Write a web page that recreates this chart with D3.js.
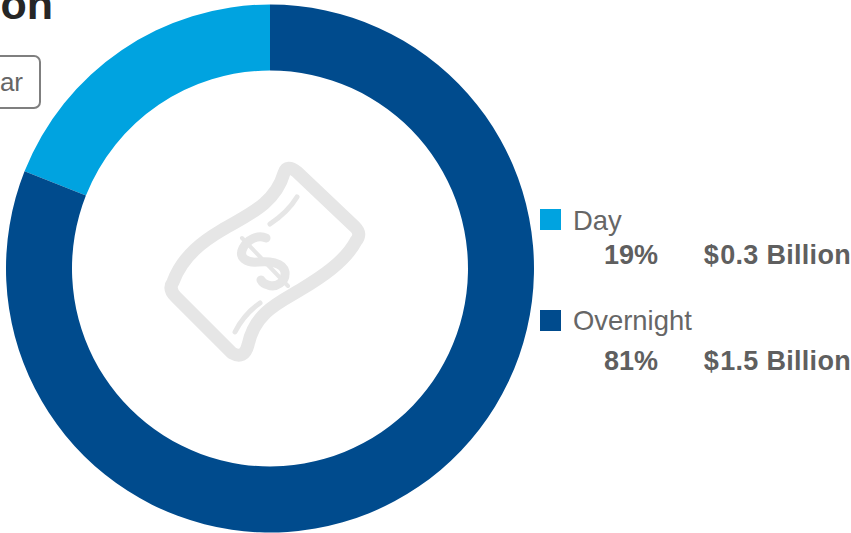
<!DOCTYPE html>
<html><head><meta charset="utf-8">
<script src="https://cdn.jsdelivr.net/npm/d3@7/dist/d3.min.js"></script>
<style>html,body{margin:0;padding:0;background:#fff;overflow:hidden}svg{display:block;font-family:"Liberation Sans",Arial,sans-serif}</style>
</head><body><svg id="c" width="851" height="533"></svg>
<script>
const categories = ["Day", "Overnight"];
const shares = [19, 81];
const amounts = ["0.3 Billion", "1.5 Billion"];
const colors = ["#00a3e0", "#004b8d"];

const svg = d3.select("#c");
const cx = 270, cy = 268.5, outer = 264, inner = 198;

const pie = d3.pie().sort(null).startAngle(-2 * Math.PI * shares[0] / 100).endAngle(2 * Math.PI * (1 - shares[0] / 100));
const arc = d3.arc().innerRadius(inner).outerRadius(outer);
svg.append("g").attr("transform", `translate(${cx},${cy})`)
  .selectAll("path").data(pie(shares)).join("path")
  .attr("d", arc).attr("fill", (d, i) => colors[i]);

// Clipped page furniture
svg.append("text").attr("x", 53).attr("y", 19).attr("text-anchor", "end")
  .attr("font-size", 43).attr("font-weight", 700).attr("fill", "#262626").text("on");
svg.append("rect").attr("x", -60).attr("y", 56).attr("width", 100).attr("height", 52).attr("rx", 6)
  .attr("fill", "#fff").attr("stroke", "#7f7f7f").attr("stroke-width", 2);
svg.append("text").attr("x", 23).attr("y", 91).attr("text-anchor", "end")
  .attr("font-size", 26).attr("fill", "#666").text("ar");

// Banknote icon
const icon = svg.append("g").attr("fill", "none").attr("stroke", "#e6e6e6").attr("stroke-linecap", "round").attr("stroke-linejoin", "round");
icon.append("path").attr("stroke-width", 13)
  .attr("d", "M284,173 Q287,164 297,172 L355,227 Q362,234 356,241 C345,262 320,278 300,290 C280,302 255,312 248,345 Q244,360 232,353 L176,297 Q168,289 173,282 C183,255 205,240 222,230 C245,216 275,205 284,173 Z");
icon.append("path").attr("stroke-width", 5).attr("d", "M270,224 C282,216 291,207 297,197");
icon.append("path").attr("stroke-width", 5).attr("d", "M235,332 C241,320 250,310 260,303");
icon.append("path").attr("stroke-width", 9)
  .attr("d", "M266,238 C258,234 247,240 243,248 C238,258 247,263 258,262 C268,261 283,262 285,272 C286,282 276,288 268,285 C264,284 262,282 261,280");
icon.append("path").attr("stroke-width", 4).attr("d", "M242,238 L288,286");

// Legend
const swatchY = [209, 310], nameY = [230, 330], valueY = [264, 370];
const legend = svg.append("g").selectAll("g").data(categories).join("g");
legend.append("rect").attr("x", 540).attr("y", (d, i) => swatchY[i]).attr("width", 21).attr("height", 21).attr("fill", (d, i) => colors[i]);
legend.append("text").attr("x", 573).attr("y", (d, i) => nameY[i]).attr("font-size", 27.4).attr("fill", "#666").text(d => d);
legend.append("text").attr("x", 658).attr("y", (d, i) => valueY[i]).attr("text-anchor", "end").attr("font-size", 27).attr("font-weight", 700).attr("fill", "#5f5f5f").text((d, i) => shares[i] + "%");
const amt = legend.append("text").attr("x", 851).attr("y", (d, i) => valueY[i]).attr("text-anchor", "end").attr("font-size", 27).attr("font-weight", 700).attr("letter-spacing", 0.3).attr("fill", "#5f5f5f");
amt.append("tspan").text("$");
amt.append("tspan").attr("dx", 1).text((d, i) => amounts[i]);
</script></body></html>
